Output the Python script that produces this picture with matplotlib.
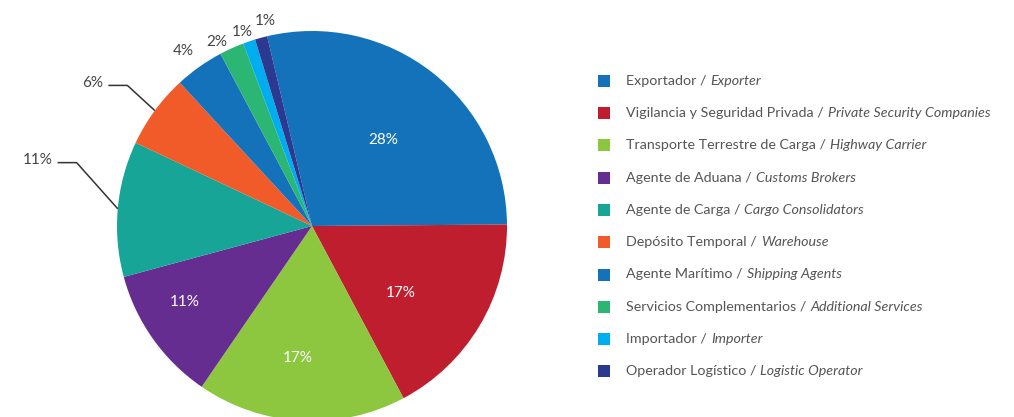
import numpy as np
import matplotlib
matplotlib.use("Agg")
import matplotlib.pyplot as plt
from matplotlib.patches import Rectangle

W, H = 1014, 417

# data
names_es = ["Exportador", "Vigilancia y Seguridad Privada", "Transporte Terrestre de Carga",
            "Agente de Aduana", "Agente de Carga", "Depósito Temporal", "Agente Marítimo",
            "Servicios Complementarios", "Importador", "Operador Logístico"]
names_en = ["Exporter", "Private Security Companies", "Highway Carrier", "Customs Brokers",
            "Cargo Consolidators", "Warehouse", "Shipping Agents", "Additional Services",
            "Importer", "Logistic Operator"]
shares = [28, 17, 17, 11, 11, 6, 4, 2, 1, 1]
pct_labels = ["28%", "17%", "17%", "11%", "11%", "6%", "4%", "2%", "1%", "1%"]

colors = ["#1372b9", "#be1e2d", "#8dc63f", "#662d91", "#16a596",
          "#f15a29", "#1372b9", "#2bb673", "#00aeef", "#2b3990"]

# label placement: (angle offset deg, radius factor, mode)
label_style = [(-1.5, 0.57, "in"), (-6, 0.57, "in"), (-3, 0.68, "in"), (-4.5, 0.76, "in"),
               (-10, 1.25, "lead"), (-1, 1.19, "lead"),
               (1, 1.115, "out"), (3, 1.06, "out"), (0.9, 1.057, "out"), (-2.3, 1.08, "out")]

plt.rcParams["font.family"] = ["Lato", "DejaVu Sans"]

fig = plt.figure(figsize=(W / 100, H / 100), dpi=100)
ax = fig.add_axes([0, 0, 1, 1])

cx, cy, R = 312, H - 226, 195
wedges, _ = ax.pie(shares, colors=colors, startangle=103.3, counterclock=False,
                   center=(cx, cy), radius=R, wedgeprops=dict(linewidth=0))
ax.set_xlim(0, W)
ax.set_ylim(0, H)
ax.set_aspect("auto")
ax.axis("off")

for w, lab, (off, rf, mode) in zip(wedges, pct_labels, label_style):
    mid = np.deg2rad((w.theta1 + w.theta2) / 2)
    ang = mid + np.deg2rad(off)
    x, y = cx + rf * R * np.cos(ang), cy + rf * R * np.sin(ang)
    if mode == "in":
        ax.text(x, y, lab, color="white", fontsize=11, ha="center", va="center")
    elif mode == "out":
        ax.text(x, y, lab, color="#444444", fontsize=11, ha="center", va="center")
    else:
        ex, ey = cx + R * np.cos(mid), cy + R * np.sin(mid)
        ax.plot([ex, x, x - 19], [ey, y, y], color="#333333", lw=1.1,
                solid_capstyle="butt")
        ax.text(x - 24, y + 2.5, lab, color="#444444", fontsize=11, ha="right", va="center")

# legend
fig.canvas.draw()
renderer = fig.canvas.get_renderer()
y0, dy = 80.7, 32.3
for i, (es, en, c) in enumerate(zip(names_es, names_en, colors)):
    yy = H - (y0 + i * dy)
    ax.add_patch(Rectangle((598, yy - 6), 12, 12, color=c, lw=0))
    t = ax.text(626, yy, es + " /", color="#555555", fontsize=10.3, va="center")
    bb = t.get_window_extent(renderer)
    ax.text(626 + bb.width + 4, yy, en, color="#555555", fontsize=10.3,
            style="italic", va="center")

fig.savefig("out.png", dpi=100)
